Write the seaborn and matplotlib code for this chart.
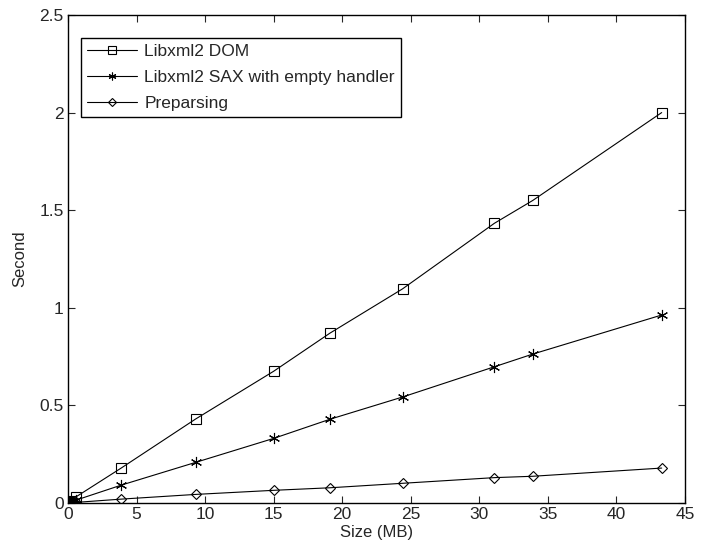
import matplotlib
matplotlib.use("Agg")
import matplotlib.pyplot as plt
import seaborn as sns

# file size (MB) and parse time (s)
size_mb = [0.03, 0.1, 0.25, 0.55, 3.9, 9.3, 15.0, 19.1, 24.4, 31.1, 33.9, 43.3]
dom_sec = [0.002, 0.005, 0.012, 0.03, 0.18, 0.43, 0.675, 0.87, 1.097, 1.433, 1.55, 2.0]
sax_sec = [0.001, 0.003, 0.006, 0.014, 0.092, 0.208, 0.331, 0.429, 0.543, 0.698, 0.763, 0.963]
pre_sec = [0.0, 0.001, 0.001, 0.003, 0.02, 0.044, 0.065, 0.078, 0.101, 0.13, 0.137, 0.179]

labels = ["Libxml2 DOM", "Libxml2 SAX with empty handler", "Preparsing"]
markers = ["s", (6, 2, 0), "D"]
msizes = [7.5, 8, 5.5]

sns.set_style("ticks")
plt.rcParams['font.family'] = ['Liberation Sans', 'DejaVu Sans']

fig = plt.figure(figsize=(7.13, 5.51), dpi=100)
ax = fig.add_axes([0.0954, 0.0871, 0.8653, 0.8857])

for ys, lab, mk, ms in zip([dom_sec, sax_sec, pre_sec], labels, markers, msizes):
    sns.lineplot(x=size_mb, y=ys, ax=ax, label=lab, color="black", linewidth=0.8,
                 marker=mk, markersize=ms, markerfacecolor="none",
                 markeredgecolor="black", markeredgewidth=0.8)

ax.set_xlim(0, 45)
ax.set_ylim(0, 2.5)
ax.set_xticks(range(0, 46, 5))
ax.set_yticks([0, 0.5, 1, 1.5, 2, 2.5])
ax.set_yticklabels(["0", "0.5", "1", "1.5", "2", "2.5"])
ax.set_xlabel("Size (MB)", fontsize=12, labelpad=2)
ax.set_ylabel("Second", fontsize=12, labelpad=9)
ax.tick_params(direction="in", length=5, width=0.8, labelsize=12.5,
               top=True, right=True, pad=3)
for s in ax.spines.values():
    s.set_visible(True)
    s.set_linewidth(1.0)
    s.set_color("black")

leg = ax.legend(loc="upper left", bbox_to_anchor=(0.021, 0.953), frameon=True,
                fancybox=False, edgecolor="black", fontsize=12.5,
                handlelength=2.85, borderaxespad=0, labelspacing=0.62,
                borderpad=0.35, handletextpad=0.45, markerscale=0.7)
leg.get_frame().set_linewidth(1.0)
leg.get_frame().set_alpha(1)

fig.savefig("out.png", dpi=100)
